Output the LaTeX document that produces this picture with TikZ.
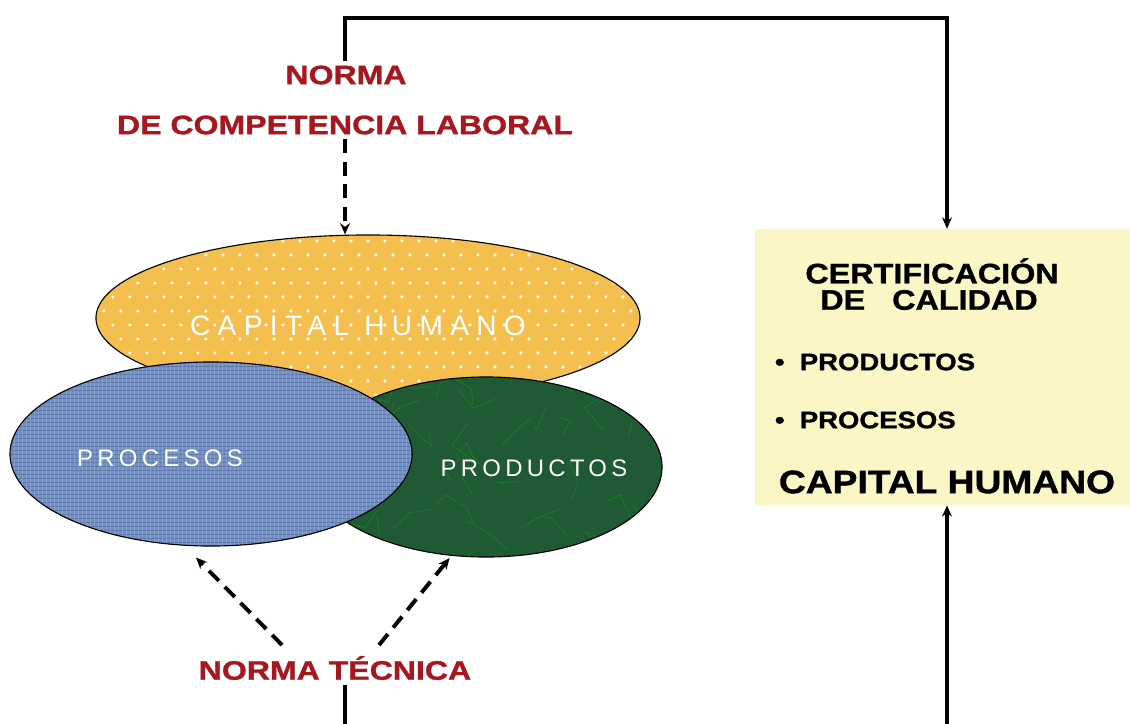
\documentclass[tikz,border=0pt]{standalone}
\usepackage{fontspec}
\setmainfont{Liberation Sans}
\newfontfamily\thinfont[LetterSpace=18]{Liberation Sans}
\newfontfamily\widethinfont[LetterSpace=26]{Liberation Sans}
\newfontfamily\heavyfont[FakeStretch=1.2,FakeBold=1.2]{Liberation Sans Bold}
\newfontfamily\boxfont[FakeStretch=1.15,FakeBold=1.2]{Liberation Sans Bold}
\usetikzlibrary{shapes.geometric,arrows.meta,calc}

\definecolor{normared}{HTML}{A8161F}
\definecolor{humanoyellow}{HTML}{F5BF4F}
\definecolor{procblue}{HTML}{6F8FC9}
\definecolor{prodgreen}{HTML}{1F5A34}
\definecolor{certfill}{HTML}{FAF6C6}

\tikzset{
  redlabel/.style={text=normared, font=\heavyfont\fontsize{19}{22}\selectfont},
  blobtext/.style={text=white, font=\thinfont\fontsize{17}{20}\selectfont},
  blob/.style={ellipse, draw=black, line width=0.8pt, inner sep=0pt},
  link/.style={line width=2.4pt, -{Stealth[length=8pt,width=7pt]}},
  dashlink/.style={link, line width=2.8pt, dash pattern=on 10pt off 6pt},
  certtext/.style={font=\boxfont\fontsize{#1}{#1}\selectfont}
}

\begin{document}
\begin{tikzpicture}[x=0.025cm, y=-0.025cm]
  \useasboundingbox (0,0) rectangle (1130,723);
  \clip (0,0) rectangle (1130,723);

  % ellipses
  \node[blob, fill=humanoyellow, minimum width=13.6cm, minimum height=4.15cm,
        path picture={
          \foreach \i in {0,...,40}{
            \foreach \j in {0,...,12}{
              \pgfmathsetmacro\shift{mod(\j,2)*8}
              \fill[white!90!humanoyellow] ($(path picture bounding box.north west)+(\i*17+\shift,\j*14+6)$) circle (1.8);
            }}
        }] (humano) at (368,318) {};
  \node[blob, fill=prodgreen, minimum width=8.8cm, minimum height=4.5cm,
        path picture={
          \pgfmathsetseed{7}
          \foreach \k in {1,...,45}{
            \draw[green!55!prodgreen, opacity=0.35, line width=0.6pt]
              ($(path picture bounding box.north west)+(rnd*360,rnd*185)$)
              -- ++(rnd*50-25,rnd*50-25) -- ++(rnd*40-20,rnd*40-20);
          }
        }] (prod) at (486,467) {};
  \node[blob, fill=procblue, minimum width=10.05cm, minimum height=4.6cm,
        path picture={
          \foreach \i in {0,...,100}{
            \draw[white, opacity=0.18, line width=0.4pt]
              ($(path picture bounding box.north west)+(\i*4,0)$) -- ++(0,190);
          }
          \foreach \j in {0,...,47}{
            \draw[black!60!procblue, opacity=0.25, line width=0.4pt]
              ($(path picture bounding box.north west)+(0,\j*4)$) -- ++(410,0);
          }
        }] (proc) at (211,454) {};

  \node[blobtext, font=\widethinfont\fontsize{20}{22}\selectfont] (humanotxt) at (358,326) {CAPITAL HUMANO};
  \node[blobtext] (proctxt) at (160,458) {PROCESOS};
  \node[blobtext] (prodtxt) at (534,468) {PRODUCTOS};

  % labels
  \node[redlabel] (norma) at (346,75) {NORMA};
  \node[redlabel] (comp) at (345,125) {DE COMPETENCIA LABORAL};
  \node[redlabel] (tecnica) at (335,668) {NORMA TÉCNICA};

  % certification box
  \node[draw=none, fill=certfill, minimum width=9.4cm, minimum height=6.9cm] (cert) at (943,367) {};
  \node[certtext=20] (certa) at (932,271) {CERTIFICACIÓN};
  \node[certtext=20] (certb) at (929,300) {DE\ \ \ CALIDAD};
  \node[certtext=17, anchor=west] (certc) at (770,362) {\textbullet\ \ PRODUCTOS};
  \node[certtext=17, anchor=west] (certd) at (770,420) {\textbullet\ \ PROCESOS};
  \node[certtext=23] (certe) at (947,482) {CAPITAL HUMANO};

  % connectors
  \coordinate (topl) at (345,18);
  \coordinate (topr) at (947,18);
  \coordinate (botl) at (345,740);
  \coordinate (botr) at (947,740);
  \coordinate (tecl) at (282,645);
  \coordinate (tecr) at (379,645);
  \draw[link] (norma.north -| topl) -- (topl) -- (topr) -- (cert.north -| topr);
  \draw[dashlink] (comp.south -| topl) -- (humano.north -| topl);
  \draw[dashlink] (tecl) -- ($(proc.south)+(-15,11)$);
  \draw[dashlink] (tecr) -- ($(prod.250)+(-4,2)$);
  \draw[link] (tecnica.south -| botl) -- (botl) -- (botr) -- (cert.south -| botr);
\end{tikzpicture}
\end{document}
